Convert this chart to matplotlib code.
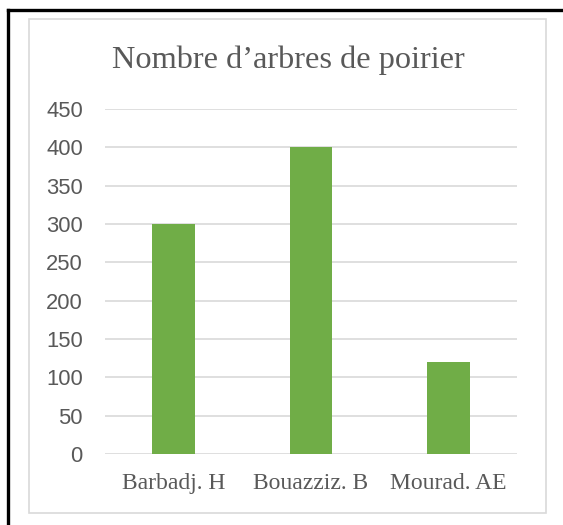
import matplotlib
matplotlib.use('Agg')
import matplotlib.pyplot as plt
from matplotlib.lines import Line2D
from matplotlib.patches import Rectangle

# data
producers = ['Barbadj. H', 'Bouazziz. B', 'Mourad. AE']
pear_trees = [300, 400, 120]
y_ticks = [0, 50, 100, 150, 200, 250, 300, 350, 400, 450]

W, H = 563, 525
fig = plt.figure(figsize=(W / 100, H / 100), dpi=100)
fig.patch.set_facecolor('white')


def fx(px):
    return px / W


def fy(py):
    return 1 - py / H


# outer black frame (only top and left visible)
fig.add_artist(Line2D([fx(8), fx(8)], [fy(10), 0], color='black', lw=2.4))
fig.add_artist(Line2D([fx(8), 1], [fy(10), fy(10)], color='black', lw=2.4))
# chart area border
fig.add_artist(Rectangle((fx(29), fy(513)), fx(546) - fx(29), fy(19) - fy(513),
                         fill=False, edgecolor='#D9D9D9', lw=1.2))

ax = fig.add_axes([fx(105), fy(454), fx(517) - fx(105), fy(109) - fy(454)])
x = list(range(len(producers)))
ax.bar(x, pear_trees, width=0.31, color='#70AD47', zorder=3)
ax.set_xlim(-0.5, len(producers) - 0.5)
ax.set_ylim(0, 450)
ax.set_yticks(y_ticks)
ax.set_yticklabels([str(v) for v in y_ticks], fontsize=15.8, color='#595959',
                   family='Liberation Sans')
ax.set_xticks(x)
ax.set_xticklabels(producers, fontsize=17, color='#595959', family='Liberation Serif')
ax.tick_params(axis='both', length=0)
ax.tick_params(axis='y', pad=16)
ax.tick_params(axis='x', pad=14)
ax.grid(axis='y', color='#D9D9D9', lw=1.2, zorder=0)
for s in ax.spines.values():
    s.set_visible(False)

fig.text(fx(288), fy(60), 'Nombre d\u2019arbres de poirier', ha='center', va='center',
         fontsize=23.3, color='#595959', family='Liberation Serif')

fig.savefig('out.png', dpi=100)
